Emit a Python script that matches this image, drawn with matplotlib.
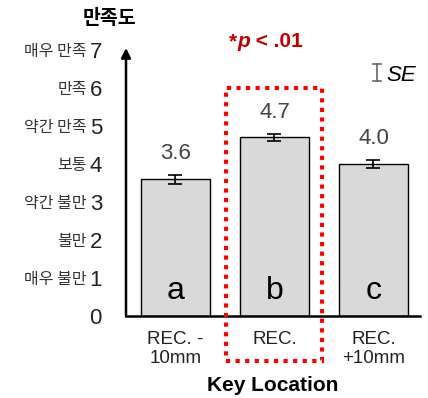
import matplotlib
matplotlib.use("Agg")
import matplotlib.pyplot as plt
from matplotlib.patches import Rectangle
from matplotlib.lines import Line2D
import matplotlib.transforms as mtransforms

plt.rcParams['font.family'] = ['Liberation Sans', 'Noto Sans CJK KR', 'DejaVu Sans']

categories = ["REC. -\n10mm", "REC.", "REC.\n+10mm"]
means = [3.6, 4.7, 4.0]
se = [0.12, 0.10, 0.11]
letters = ["a", "b", "c"]
tick_values = [0, 1, 2, 3, 4, 5, 6, 7]
tick_words = ["", "매우 불만", "불만", "약간 불만", "보통", "약간 만족", "만족", "매우 만족"]

W, H = 428, 398
fig = plt.figure(figsize=(W / 100, H / 100), dpi=100)
PT = 72 / 100  # points per pixel

# axes box in pixel units
x0, x1 = 126, 420
ybot, ytop = 316, 48
ax = fig.add_axes([x0 / W, 1 - ybot / H, (x1 - x0) / W, (ybot - ytop) / H])

xpos = list(range(len(categories)))
ax.bar(xpos, means, width=0.70, color="#d9d9d9", edgecolor="black",
       linewidth=1.0, zorder=2)
ax.errorbar(xpos, means, yerr=se, fmt="none", ecolor="black",
            elinewidth=1.2, capsize=5, capthick=1.2, zorder=3)

ax.set_xlim(-0.5, 2.47)
ax.set_ylim(0, 7.05)

for s in ["top", "right", "left"]:
    ax.spines[s].set_visible(False)
ax.spines["bottom"].set_linewidth(1.8)

# vertical axis drawn as an arrow
ax.annotate("", xy=(0, 1.0), xytext=(0, 0), xycoords="axes fraction",
            arrowprops=dict(arrowstyle="-|>", color="black", lw=1.8,
                            mutation_scale=14, shrinkA=0, shrinkB=0))

ax.set_xticks(xpos)
ax.set_xticklabels(categories, fontsize=13.5, color="#222222", linespacing=1.15)
ax.tick_params(axis="x", length=0, pad=11)

ax.set_yticks(tick_values)
ax.set_yticklabels([str(v) for v in tick_values], fontsize=16, color="#222222")
ax.tick_params(axis="y", length=0, pad=24 * PT)

# word labels next to the numeric ticks
word_tf = mtransforms.offset_copy(ax.get_yaxis_transform(), fig=fig,
                                  x=-39 * PT, y=-1, units="points")
for v, w in zip(tick_values, tick_words):
    if w:
        ax.text(0, v, w, transform=word_tf, ha="right", va="center",
                fontsize=11.5, color="#333333",
                family=['Noto Sans CJK KR', 'DejaVu Sans'])

# value labels above bars
for x, m, e in zip(xpos, means, se):
    ax.text(x, m + e + 0.28, f"{m:.1f}", ha="center", va="bottom",
            fontsize=16, color="#444444")

# group letters inside bars
for x, l in zip(xpos, letters):
    ax.text(x, 0.65, l, ha="center", va="center", fontsize=23, color="black")

ax.set_xlabel("Key Location", fontsize=15, fontweight="bold", labelpad=6)

# highlight box around the middle group
box = Rectangle((1 - 0.485, -1.18), 0.97, 7.18,
                fill=False, edgecolor="#ff0000", linewidth=3,
                linestyle=(0, (1, 1.3)), clip_on=False, zorder=4)
ax.add_patch(box)

# significance note
red = "#c00000"
t1 = fig.text(229 / W, 1 - 47 / H, "*", color=red, fontsize=15,
              fontweight="bold", ha="left", va="baseline")
t2 = fig.text(0, 0, "p", color=red, fontsize=15, fontweight="bold",
              style="italic", ha="left", va="baseline")
t3 = fig.text(0, 0, " < .01", color=red, fontsize=15, fontweight="bold",
              ha="left", va="baseline")
fig.canvas.draw()
r = fig.canvas.get_renderer()
bb = t1.get_window_extent(r)
t2.set_position((bb.x1 / W, 1 - 47 / H))
bb2 = t2.get_window_extent(r)
t3.set_position((bb2.x1 / W, 1 - 47 / H))

# SE legend
lx = 377 / W
ytop_i, ybot_i = 1 - 64 / H, 1 - 81 / H
fig.add_artist(Line2D([lx, lx], [ybot_i, ytop_i], color="#666666", lw=1.2))
for yy in (ytop_i, ybot_i):
    fig.add_artist(Line2D([lx - 4 / W, lx + 4 / W], [yy, yy], color="#666666", lw=1.2))
fig.text(386 / W, 1 - 81 / H, "SE", fontsize=16, style="italic",
         ha="left", va="baseline")

# axis title
fig.text(109 / W, 1 - 18 / H, "만족도", fontsize=14, fontweight="bold",
         ha="center", va="center", family=['Noto Sans CJK KR', 'DejaVu Sans'])

fig.savefig("out.png", dpi=100)
